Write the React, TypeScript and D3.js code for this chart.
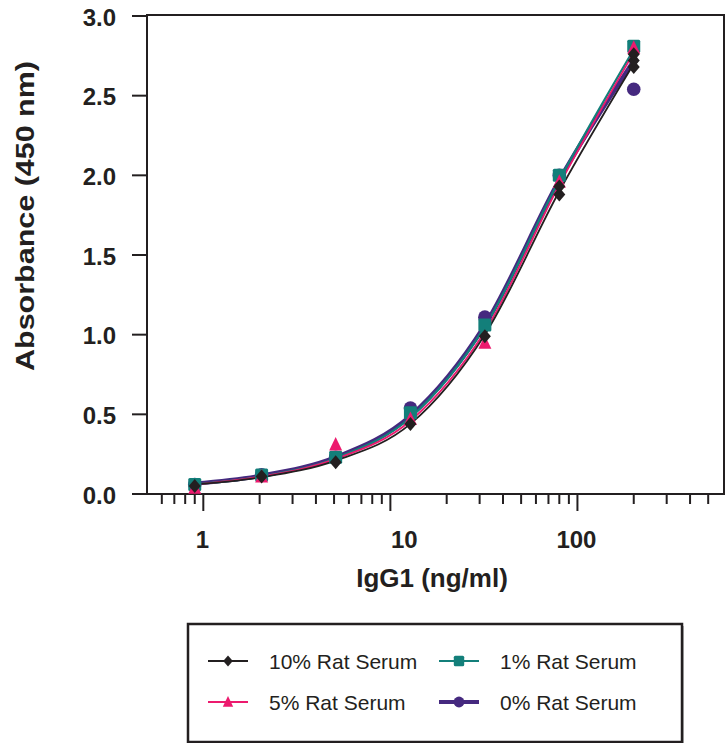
import React from "react";
import * as d3 from "d3";

const concentrations = [0.9, 2.05, 5.1, 12.8, 32, 80, 200];
const serum10 = [0.05, 0.11, 0.2, 0.44, 0.99, 1.88, 2.68];
const serum10RepX = [80, 200, 200];
const serum10RepY = [1.93, 2.72, 2.76];
const serum5 = [0.04, 0.11, 0.31, 0.47, 0.95, 1.96, 2.8];
const serum1 = [0.06, 0.12, 0.23, 0.51, 1.06, 2.0, 2.81];
const serum0 = [0.06, 0.12, 0.23, 0.54, 1.11, 2.0, 2.54];

const fit10 = [0.06, 0.105, 0.21, 0.44, 1.0, 1.9, 2.7];
const fit5 = [0.06, 0.11, 0.22, 0.46, 1.02, 1.94, 2.77];
const fit1 = [0.06, 0.11, 0.225, 0.48, 1.05, 1.97, 2.79];
const fit0 = [0.065, 0.115, 0.23, 0.49, 1.06, 1.97, 2.72];

const yTicks = [0, 0.5, 1, 1.5, 2, 2.5, 3];
const xMajor = [1, 10, 100];
const xMinor = [0.6, 0.7, 0.8, 0.9, 2, 3, 4, 5, 6, 7, 8, 9, 20, 30, 40, 50, 60, 70, 80, 90, 200, 300, 400, 500];
const legendLabels = ["10% Rat Serum", "1% Rat Serum", "5% Rat Serum", "0% Rat Serum"];

const C_BLACK = "#231f20";
const C_TEAL = "#137f7a";
const C_PINK = "#ec1a6e";
const C_PURPLE = "#45297f";
const FONT = "'Liberation Sans', Arial, Helvetica, sans-serif";

const x = d3.scaleLog().domain([0.5, 600]).range([147, 723]);
const y = d3.scaleLinear().domain([0, 3]).range([494, 16]);

const lineGen = d3
  .line<[number, number]>()
  .x((d) => x(d[0]))
  .y((d) => y(d[1]))
  .curve(d3.curveMonotoneX);

function Marker({ kind, cx, cy, s = 1 }: { kind: string; cx: number; cy: number; s?: number }) {
  if (kind === "circle") return <circle cx={cx} cy={cy} r={6.8 * s} fill={C_PURPLE} />;
  if (kind === "square")
    return <rect x={cx - 6.5 * s} y={cy - 6.5 * s} width={13 * s} height={13 * s} rx={1.5} fill={C_TEAL} />;
  if (kind === "triangle") {
    const p = d3.path();
    p.moveTo(cx, cy - 7.5 * s);
    p.lineTo(cx + 6.5 * s, cy + 6 * s);
    p.lineTo(cx - 6.5 * s, cy + 6 * s);
    p.closePath();
    return <path d={p.toString()} fill={C_PINK} />;
  }
  const p = d3.path();
  p.moveTo(cx, cy - 7 * s);
  p.lineTo(cx + 6 * s, cy);
  p.lineTo(cx, cy + 7 * s);
  p.lineTo(cx - 6 * s, cy);
  p.closePath();
  return <path d={p.toString()} fill={C_BLACK} />;
}

const zip = (a: number[], b: number[]) => a.map((v, i) => [v, b[i]] as [number, number]);

export default function App() {
  const series = [
    { fit: fit0, pts: serum0, color: C_PURPLE, w: 4.4, kind: "circle" },
    { fit: fit1, pts: serum1, color: C_TEAL, w: 2.2, kind: "square" },
    { fit: fit5, pts: serum5, color: C_PINK, w: 1.8, kind: "triangle" },
    { fit: fit10, pts: serum10, color: C_BLACK, w: 1.8, kind: "diamond" },
  ];
  const legendItems = [
    { label: legendLabels[0], color: C_BLACK, w: 2, kind: "diamond", lx: 208, ty: 661 },
    { label: legendLabels[1], color: C_TEAL, w: 2, kind: "square", lx: 439, ty: 661 },
    { label: legendLabels[2], color: C_PINK, w: 2, kind: "triangle", lx: 208, ty: 702 },
    { label: legendLabels[3], color: C_PURPLE, w: 4, kind: "circle", lx: 439, ty: 702 },
  ];
  return (
    <svg width={726} height={743} style={{ position: "absolute", left: 0, top: 0, background: "#fff" }}>
      {/* frame */}
      <rect x={147} y={15} width={577} height={479} fill="none" stroke={C_BLACK} strokeWidth={2} />
      {/* y ticks */}
      {yTicks.map((t) => (
        <g key={"y" + t}>
          <line x1={132} x2={147} y1={y(t)} y2={y(t)} stroke={C_BLACK} strokeWidth={2} />
          <text
            x={116}
            y={y(t) + 1}
            textAnchor="end"
            dominantBaseline="central"
            fontFamily={FONT}
            fontWeight="bold"
            fontSize={24}
            fill={C_BLACK}
          >
            {d3.format(".1f")(t)}
          </text>
        </g>
      ))}
      {/* x ticks */}
      {xMinor.map((t) => (
        <line key={"m" + t} x1={x(t)} x2={x(t)} y1={494} y2={504} stroke={C_BLACK} strokeWidth={2} />
      ))}
      {xMajor.map((t) => (
        <g key={"M" + t}>
          <line x1={x(t)} x2={x(t)} y1={494} y2={511} stroke={C_BLACK} strokeWidth={2} />
          <text
            x={x(t) + (t === 10 ? 14 : -1)}
            y={539}
            textAnchor="middle"
            dominantBaseline="central"
            fontFamily={FONT}
            fontWeight="bold"
            fontSize={24}
            fill={C_BLACK}
          >
            {d3.format("d")(t)}
          </text>
        </g>
      ))}
      {/* axis titles */}
      <text
        x={432}
        y={578}
        textAnchor="middle"
        dominantBaseline="central"
        fontFamily={FONT}
        fontWeight="bold"
        fontSize={26}
        fill={C_BLACK}
      >
        IgG1 (ng/ml)
      </text>
      <text
        transform="translate(25,216) rotate(-90)"
        textAnchor="middle"
        dominantBaseline="central"
        fontFamily={FONT}
        fontWeight="bold"
        fontSize={26}
        textLength={310}
        lengthAdjust="spacingAndGlyphs"
        fill={C_BLACK}
      >
        Absorbance (450 nm)
      </text>
      {/* curves */}
      {series.map((s, i) => (
        <path
          key={"c" + i}
          d={lineGen(zip(concentrations, s.fit)) || ""}
          fill="none"
          stroke={s.color}
          strokeWidth={s.w}
        />
      ))}
      {/* markers */}
      {series.map((s, i) => (
        <g key={"p" + i}>
          {s.pts.map((v, j) => (
            <Marker key={j} kind={s.kind} cx={x(concentrations[j])} cy={y(v)} />
          ))}
        </g>
      ))}
      {serum10RepX.map((c, j) => (
        <Marker key={"r" + j} kind="diamond" cx={x(c)} cy={y(serum10RepY[j])} />
      ))}
      {/* legend */}
      <rect x={190} y={626} width={494} height={118} fill="#bbb" />
      <rect x={188} y={624} width={494} height={118} fill="#fff" stroke={C_BLACK} strokeWidth={2.5} />
      {legendItems.map((it, i) => (
        <g key={"l" + i}>
          <line x1={it.lx} x2={it.lx + 40} y1={it.ty} y2={it.ty} stroke={it.color} strokeWidth={it.w} />
          <Marker kind={it.kind} cx={it.lx + 20} cy={it.ty} s={0.8} />
          <text
            x={it.lx + 61}
            y={it.ty}
            dominantBaseline="central"
            fontFamily={FONT}
            fontSize={21}
            fill={C_BLACK}
          >
            {it.label}
          </text>
        </g>
      ))}
    </svg>
  );
}
